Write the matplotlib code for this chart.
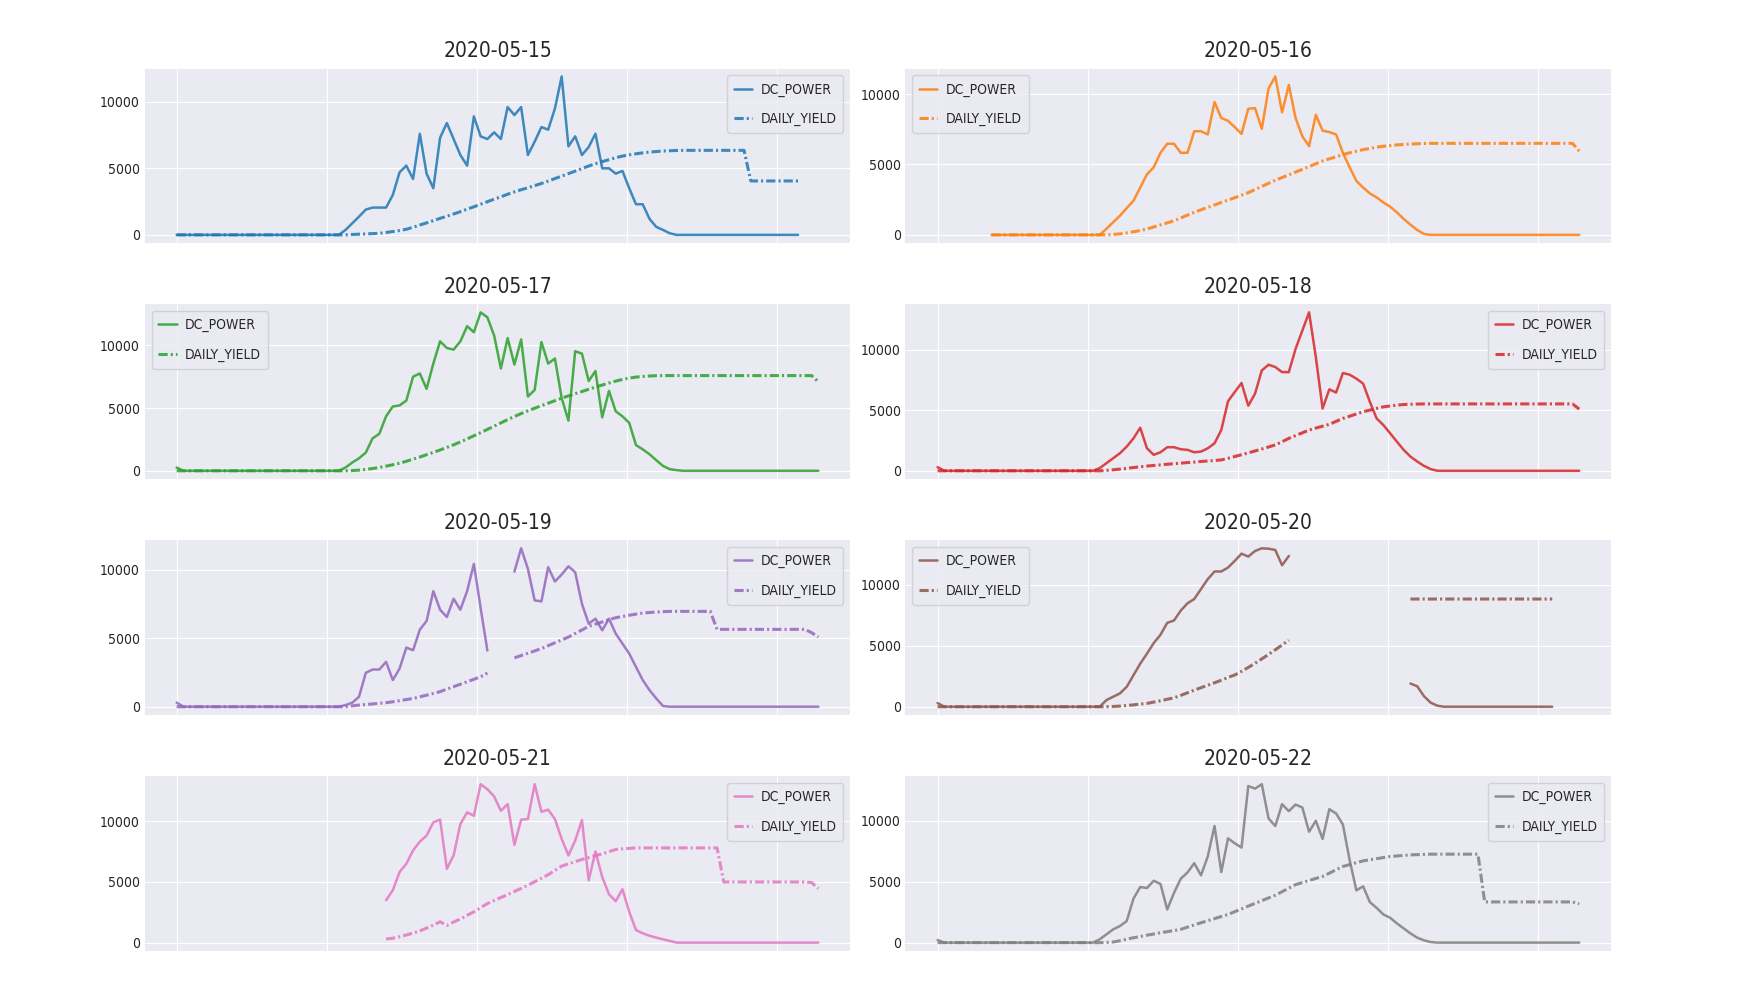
import numpy as np
import matplotlib
matplotlib.use("Agg")
import matplotlib.pyplot as plt
from matplotlib.ticker import MultipleLocator

nan = np.nan

DAYS = ["2020-05-15", "2020-05-16", "2020-05-17", "2020-05-18",
        "2020-05-19", "2020-05-20", "2020-05-21", "2020-05-22"]

# first 15-minute slot of each day's readings (slot 0 = 00:00)
START_SLOT = [0, 8, 0, 0, 0, 0, 31, 0]
SLOT_SECONDS = 900

DC_0515 = [0] * 25 + [
    370, 870, 1370, 1900, 2050, 2050, 2050, 3000, 4700, 5200, 4200, 7600,
    4600, 3500, 7300, 8400, 7200, 6000, 5200, 8900, 7400, 7200, 7700, 7200,
    9600, 9000, 9600, 6000, 7000, 8100, 7900, 9500, 11900, 6650, 7400, 6000,
    6600, 7600, 5000, 5000, 4600, 4800, 3500, 2300, 2300, 1200, 600, 370,
    120] + [0] * 19
YIELD_0515 = [0] * 26 + [
    30, 50, 70, 95, 120, 180, 250, 330, 420, 570, 740, 900, 1070, 1240,
    1400, 1570, 1740, 1930, 2110, 2300, 2490, 2680, 2860, 3050, 3230, 3390,
    3540, 3700, 3860, 4040, 4230, 4410, 4600, 4790, 4980, 5170, 5350, 5500,
    5650, 5800, 5920, 6010, 6090, 6160, 6220, 6260, 6300, 6320, 6340] + \
    [6350] * 10 + [4050] * 8

DC_0516 = [0] * 17 + [
    430, 900, 1360, 1900, 2420, 3360, 4300, 4800, 5830, 6470, 6470, 5830,
    5830, 7360, 7360, 7130, 9440, 8300, 8100, 7650, 7170, 8960, 9000, 7530,
    10400, 11250, 8700, 10650, 8300, 7000, 6300, 8530, 7400, 7300, 7130, 5830,
    4800, 3830, 3360, 2940, 2660, 2300, 2000, 1600, 1130, 730, 350, 70] + [0] * 23
YIELD_0516 = [0] * 18 + [
    30, 70, 140, 220, 310, 420, 560, 710, 850, 1000, 1200, 1400, 1600, 1780,
    1950, 2120, 2300, 2470, 2640, 2820, 3000, 3220, 3440, 3660, 3880, 4070,
    4260, 4460, 4650, 4850, 5050, 5250, 5400, 5550, 5700, 5830, 5940, 6050,
    6140, 6230, 6290, 6340, 6390, 6420, 6450, 6470, 6490] + [6500] * 22 + [5950]

DC_0517 = [260] + [0] * 24 + [
    260, 660, 1000, 1450, 2580, 2950, 4340, 5130, 5210, 5600, 7500, 7760,
    6530, 8550, 10320, 9790, 9660, 10320, 11530, 11050, 12630, 12240, 10790,
    8160, 10580, 8470, 10470, 5920, 6450, 10260, 8550, 8950, 5790, 4000, 9530,
    9340, 7160, 7950, 4260, 6370, 4740, 4340, 3820, 2050, 1710, 1320, 840,
    390, 130, 50] + [0] * 21
YIELD_0517 = [0] * 26 + [
    20, 50, 110, 180, 260, 370, 480, 600, 760, 930, 1100, 1280, 1460, 1660,
    1860, 2070, 2300, 2540, 2790, 3040, 3300, 3560, 3820, 4080, 4330, 4560,
    4780, 4990, 5190, 5390, 5590, 5790, 5970, 6150, 6320, 6500, 6670, 6840,
    7000, 7150, 7280, 7390, 7470, 7520, 7560, 7580] + [7590] * 23 + [7100]

DC_0518 = [300] + [0] * 23 + [
    220, 630, 1040, 1450, 2000, 2680, 3560, 1860, 1320, 1530, 1950, 1950,
    1780, 1730, 1530, 1590, 1860, 2270, 3370, 5750, 6520, 7260, 5380, 6380,
    8300, 8770, 8580, 8160, 8160, 10080, 11590, 13100, 9400, 5150, 6740, 6470,
    8080, 7950, 7620, 7210, 5700, 4330, 3780, 3100, 2410, 1730, 1180, 770,
    410, 140] + [0] * 22
YIELD_0518 = [0] * 25 + [
    30, 80, 140, 200, 270, 330, 390, 440, 490, 540, 590, 630, 680, 720, 770,
    810, 850, 900, 1030, 1180, 1330, 1480, 1640, 1800, 1970, 2140, 2400, 2680,
    2910, 3140, 3370, 3530, 3690, 3840, 4090, 4330, 4510, 4700, 4880, 5020,
    5160, 5290, 5360, 5430, 5480, 5500, 5520] + [5530] * 23 + [5100]

DC_0519 = [300] + [0] * 24 + [
    120, 290, 730, 2470, 2710, 2710, 3270, 1940, 2780, 4310, 4120, 5620, 6250,
    8430, 7070, 6540, 7870, 7070, 8430, 10410, 7200, 4100] + [nan] * 3 + [
    9850, 11550, 10050, 7750, 7680, 10170, 9130, 9640, 10240, 9800, 7500,
    6050, 6420, 5570, 6420, 5330, 4600, 3870, 2900, 1940, 1210, 600, 50] + [0] * 23
YIELD_0519 = [0] * 26 + [
    60, 120, 160, 200, 250, 290, 360, 440, 520, 600, 720, 840, 970, 1100,
    1280, 1460, 1640, 1820, 2000, 2180, 2450] + [nan] * 3 + [
    3560, 3730, 3900, 4070, 4240, 4450, 4660, 4870, 5080, 5340, 5600, 5860,
    6020, 6180, 6340, 6490, 6580, 6670, 6750, 6830, 6870, 6900, 6930] + \
    [6950] * 7 + [5640] * 14 + [5400, 5080]

DC_0520 = [300] + [0] * 24 + [
    540, 820, 1090, 1630, 2580, 3530, 4350, 5220, 5900, 6880, 7070, 7880,
    8480, 8830, 9650, 10460, 11090, 11090, 11410, 11960, 12550, 12310, 12770,
    12990, 12960, 12850, 11600, 12360] + [nan] * 17 + [
    1900, 1680, 870, 330, 80] + [0] * 17
YIELD_0520 = [0] * 26 + [
    20, 50, 100, 150, 210, 270, 380, 490, 610, 730, 930, 1140, 1360, 1560,
    1760, 1960, 2170, 2400, 2600, 2900, 3220, 3560, 3920, 4290, 4670, 5060,
    5450] + [nan] * 17 + [8830] * 22

DC_0521 = [
    3500, 4320, 5820, 6500, 7600, 8330, 8830, 9920, 10140, 6090, 7190, 9780,
    10740, 10460, 13060, 12650, 12050, 10870, 11420, 8060, 10140, 10190, 13060,
    10790, 10960, 10190, 8550, 7190, 8420, 10110, 5140, 7510, 5410, 3990, 3420,
    4400, 2540, 1040, 770, 570, 410, 270, 140] + [0] * 22
YIELD_0521 = [
    300, 360, 490, 630, 790, 960, 1200, 1450, 1720, 1420, 1700, 1950, 2250,
    2540, 2880, 3220, 3470, 3720, 3960, 4220, 4470, 4730, 5020, 5310, 5600,
    5950, 6310, 6490, 6680, 6860, 7010, 7170, 7320, 7500, 7680, 7730, 7770,
    7810] + [7810] * 12 + [5000] * 13 + [4950, 4450]

DC_0522 = [220] + [0] * 23 + [
    270, 680, 1090, 1360, 1770, 3610, 4560, 4480, 5080, 4810, 2720, 4080,
    5240, 5760, 6520, 5520, 7070, 9570, 5790, 8560, 8150, 7800, 12850, 12640,
    13000, 10190, 9570, 11360, 10790, 11330, 11090, 9100, 10000, 8510, 10950,
    10600, 9700, 6790, 4290, 4620, 3320, 2850, 2310, 2040, 1580, 1170, 760,
    410, 190, 50] + [0] * 22
YIELD_0522 = [0] * 25 + [
    20, 50, 160, 280, 400, 500, 610, 710, 815, 900, 990, 1090, 1270, 1450,
    1630, 1800, 1970, 2140, 2310, 2540, 2770, 3000, 3220, 3440, 3670, 3890,
    4180, 4470, 4760, 4930, 5100, 5270, 5430, 5700, 5980, 6250, 6400, 6560,
    6710, 6800, 6890, 6980, 7070, 7110, 7160, 7200, 7220, 7240] + \
    [7260] * 8 + [3340] * 14 + [3180]

DC_POWER = [DC_0515, DC_0516, DC_0517, DC_0518, DC_0519, DC_0520, DC_0521, DC_0522]
DAILY_YIELD = [YIELD_0515, YIELD_0516, YIELD_0517, YIELD_0518,
               YIELD_0519, YIELD_0520, YIELD_0521, YIELD_0522]

LEGEND_LOC = ["upper right", "upper left", "upper left", "upper right",
              "upper right", "upper left", "upper right", "upper right"]


def main():
    plt.style.use("seaborn-v0_8-darkgrid")
    plt.rcParams["font.family"] = ["DejaVu Sans"]
    plt.rcParams["font.stretch"] = "condensed"

    fig, axes = plt.subplots(4, 2, figsize=(17.42, 10.08), dpi=100, sharex=True)
    fig.subplots_adjust(left=0.083, right=0.925, top=0.932, bottom=0.057,
                        wspace=0.078, hspace=0.354)

    for i, ax in enumerate(axes.flat):
        color = f"C{i}"
        dc = np.array(DC_POWER[i], dtype=float)
        dy = np.array(DAILY_YIELD[i], dtype=float)
        x = (START_SLOT[i] + np.arange(len(dc))) * SLOT_SECONDS
        ax.plot(x, dc, linestyle="-", color=color, linewidth=1.8, alpha=0.85,
                label="DC_POWER")
        ax.plot(x, dy, linestyle=(0, (3, 1, 0.7, 1)), color=color, linewidth=2.2,
                alpha=0.85, label="DAILY_YIELD")

        ax.set_title(DAYS[i], fontsize=15, color="0.15", pad=8)
        ax.yaxis.set_major_locator(MultipleLocator(5000))
        ax.set_xticks([0, 20000, 40000, 60000, 80000])
        ax.set_xticklabels([])
        ax.tick_params(axis="y", labelsize=10, colors="0.15")
        ax.legend(loc=LEGEND_LOC[i], fontsize=10, frameon=True,
                  handlelength=1.3, handletextpad=0.6, borderpad=0.5,
                  labelspacing=1.1)

    fig.savefig("out.png", dpi=100)
    plt.close(fig)


if __name__ == "__main__":
    main()
